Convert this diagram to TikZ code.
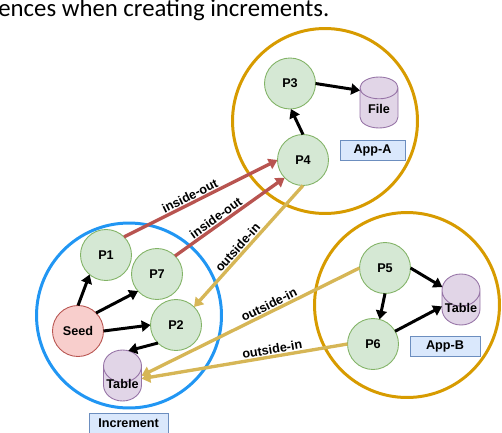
\documentclass[tikz,border=0pt]{standalone}
\usepackage{fontspec}
\setmainfont{Liberation Sans}
\newfontfamily\bodyfont{Carlito}
\usepackage{xcolor}
\usetikzlibrary{arrows.meta, shapes.geometric}
\definecolor{procfill}{HTML}{D5E8D4}
\definecolor{procline}{HTML}{82B366}
\definecolor{seedfill}{HTML}{F8CECC}
\definecolor{insideout}{HTML}{B85450}
\definecolor{dbfill}{HTML}{E1D5E7}
\definecolor{dbline}{HTML}{9673A6}
\definecolor{tagfill}{HTML}{DAE8FC}
\definecolor{tagline}{HTML}{6C8EBF}
\definecolor{outsidein}{HTML}{D6B656}
\definecolor{appring}{HTML}{D79B00}
\definecolor{incring}{HTML}{2196F3}
\newcommand{\dblabel}[1]{\raisebox{-2.9pt}[0pt][0pt]{#1}}
\tikzset{
    ringnode/.style={circle, draw=#1, line width=1.7pt, minimum size=3.7cm, inner sep=0pt},
    procnode/.style={circle, draw=procline, fill=procfill, line width=0.5pt, minimum size=1.02cm, inner sep=0pt, outer sep=0pt, font=\fontsize{7.2}{8}\selectfont\bfseries},
    seednode/.style={procnode, draw=insideout, fill=seedfill},
    dbnode/.style={cylinder, anchor=shape center, shape border rotate=90, aspect=1, draw=dbline, fill=dbfill, line width=0.5pt, minimum width=0.76cm, minimum height=1.02cm, inner sep=0pt, outer sep=0pt, font=\fontsize{7.2}{8}\selectfont\bfseries},
    tagnode/.style={draw=tagline, fill=tagfill, line width=0.5pt, minimum height=0.4cm, inner sep=0pt, font=\fontsize{7.2}{8}\selectfont\bfseries},
    flow/.style={-{Stealth[inset=0pt, length=5pt, width=6.2pt]}, line width=1.7pt, black},
    cross/.style={-{Stealth[inset=0pt, length=5pt, width=6.2pt]}, line width=1.9pt, #1},
    edgelabel/.style={sloped, above=0.6pt, inner sep=0pt, text=black, font=\fontsize{7.2}{8}\selectfont\bfseries}
}
\begin{document}
\begin{tikzpicture}[x=0.02cm, y=-0.02cm]
    \useasboundingbox (0,0) rectangle (502,432);
    \node[anchor=base west, inner sep=0pt, font=\bodyfont\fontsize{14.1}{16}\selectfont] (caption) at (-2,17) {ences when creating increments.};
    % Rings
    \node[ringnode=appring] (ringA) at (325,121) {};
    \node[ringnode=incring] (ringI) at (129,315.5) {};
    \node[ringnode=appring] (ringB) at (407,305) {};
    % App-A
    \node[procnode] (P3) at (290,83.5) {P3};
    \node[procnode] (P4) at (303,160) {P4};
    \node[dbnode] (fileA) at (379,102.5) {\dblabel{File}};
    \node[tagnode, minimum width=1.3cm] (tagA) at (372.5,150) {App-A};
    % Increment
    \node[procnode] (P1) at (106,255) {P1};
    \node[procnode] (P7) at (157,274) {P7};
    \node[procnode] (P2) at (176,325) {P2};
    \node[seednode] (seed) at (78,331) {Seed};
    \node[dbnode] (tableI) at (122.5,375.5) {\dblabel{Table}};
    \node[tagnode, minimum width=1.58cm] (tagI) at (128.5,423) {Increment};
    % App-B
    \node[procnode] (P5) at (385,268) {P5};
    \node[procnode] (P6) at (373,344) {P6};
    \node[dbnode] (tableB) at (461,299.5) {\dblabel{Table}};
    \node[tagnode, minimum width=1.4cm] (tagB) at (445,346) {App-B};
    % Inside the rings
    \draw[flow] (P3.0) -- (fileA.137);
    \draw[flow] (P4.90) -- (P3.-88);
    \draw[flow] (seed.90) -- (P1.-130);
    \draw[flow] (seed.45) -- (P7.-138);
    \draw[flow] (seed.0) -- (P2.180);
    \draw[flow] (P2.-135) -- (tableI.80);
    \draw[flow] (P5.0) -- (tableB.132);
    \draw[flow] (P5.-90) -- (P6.75);
    \draw[flow] (P6.30) -- (tableB.176);
    % Across the rings
    \draw[cross=insideout] (P1.45) -- node[edgelabel, pos=0.45] (lab1) {inside-out} (P4.180);
    \draw[cross=insideout] (P7.45) -- node[edgelabel, pos=0.41] (lab2) {inside-out} (P4.-136);
    \draw[cross=outsidein] (P4.-90) -- node[edgelabel, pos=0.55] (lab3) {outside-in} (P2.45);
    \draw[cross=outsidein] (P5.180) -- node[edgelabel, pos=0.40] (lab4) {outside-in} (tableI.23);
    \draw[cross=outsidein] (P6.180) -- node[edgelabel, pos=0.36] (lab5) {outside-in} (tableI.15);
\end{tikzpicture}
\end{document}
